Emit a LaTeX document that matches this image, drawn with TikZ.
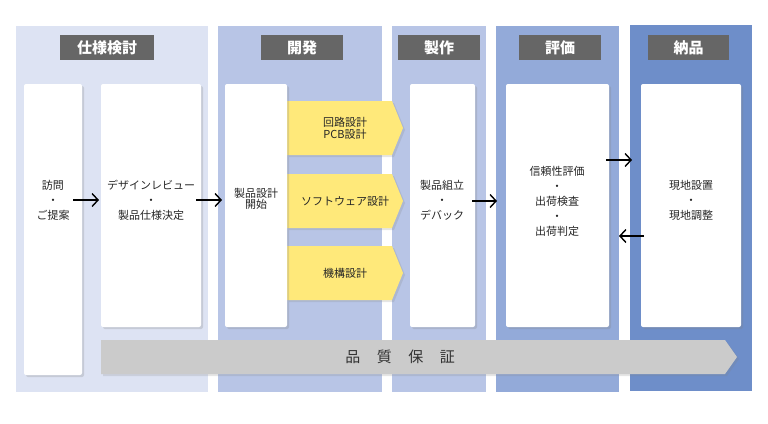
\documentclass[tikz,border=0pt]{standalone}
\usepackage{fontspec}
\setmainfont{Noto Sans CJK JP}
\usetikzlibrary{arrows.meta,shadows}
\definecolor{c1}{HTML}{DDE3F3}
\definecolor{c2}{HTML}{B8C5E6}
\definecolor{c4}{HTML}{93AAD9}
\definecolor{c5}{HTML}{6E8EC9}
\definecolor{hd}{HTML}{666666}
\definecolor{yl}{HTML}{FFE97A}
\definecolor{qa}{HTML}{CBCBCB}
\begin{document}
\begin{tikzpicture}[x=1pt,y=-1pt,
 hdr/.style={fill=hd,text=white,font=\bfseries\fontsize{15}{15}\selectfont,anchor=north west,inner sep=0},
 wbox/.style={fill=white,rounded corners=2pt,drop shadow={shadow xshift=2pt,shadow yshift=-2pt,opacity=0.25}},
 lbl/.style={font=\fontsize{11}{15}\selectfont,align=center,text=black!85},
 arr/.style={-{Straight Barb[length=6pt,width=13pt]},line width=1.4pt}]
\useasboundingbox (0,0) rectangle (768,423);
\fill[white] (0,0) rectangle (768,423);
\fill[c1] (16,26) rectangle (208,392);
\fill[c2] (218,26) rectangle (382,392);
\fill[c2] (392,26) rectangle (486,392);
\fill[c4] (496,26) rectangle (619,392);
\fill[c5] (630,25) rectangle (752,391);
\node[hdr,minimum width=94pt,minimum height=25pt] (h1) at (60,35) {仕様検討};
\node[hdr,minimum width=82pt,minimum height=25pt] (h2) at (261,35) {開発};
\node[hdr,minimum width=82pt,minimum height=25pt] (h3) at (398,35) {製作};
\node[hdr,minimum width=82pt,minimum height=25pt] (h4) at (519,35) {評価};
\node[hdr,minimum width=81pt,minimum height=25pt] (h5) at (648,35) {納品};
% yellow arrows
\foreach \t/\b/\n in {101/155/y1,174/228/y2,246/300/y3}{
 \fill[yl,drop shadow={shadow xshift=2pt,shadow yshift=-2pt,opacity=0.2}] (287,\t) -- (392,\t) -- (403,{(\t+\b)/2}) -- (392,\b) -- (287,\b) -- cycle;
 \coordinate (\n) at (345,{(\t+\b)/2});
}
\node[lbl] at (y1) {回路設計\\[-3pt]PCB設計};
\node[lbl] at (y2) {ソフトウェア設計};
\node[lbl] at (y3) {機構設計};
% QA bar
\fill[qa,drop shadow={shadow xshift=2pt,shadow yshift=-2pt,opacity=0.2}] (101,340) -- (725,340) -- (737,357) -- (725,374) -- (101,374) -- cycle;
\node[font=\fontsize{15}{15}\selectfont,text=black!80] (qa) at (400,357) {品\hspace{1.1em}質\hspace{1.1em}保\hspace{1.1em}証};
% boxes
\fill[wbox] (24,84) rectangle (82,375);
\fill[wbox] (101,84) rectangle (201,327);
\fill[wbox] (225,84) rectangle (287,327);
\fill[wbox] (410,84) rectangle (475,327);
\fill[wbox] (506,84) rectangle (609,327);
\fill[wbox] (641,84) rectangle (741,327);
\node[lbl] (b1) at (53,200) {訪問\\・\\ご提案};
\node[lbl] (b2) at (151,200) {デザインレビュー\\・\\製品仕様決定};
\node[lbl,align=center] (b3) at (256,199) {製品設計\\[-4pt]開始};
\node[lbl] (b4) at (442,200) {製品組立\\・\\デバック};
\node[lbl] (b5) at (557,201) {信頼性評価\\・\\出荷検査\\・\\出荷判定};
\node[lbl] (b6) at (691,200) {現地設置\\・\\現地調整};
\coordinate (b1e) at (73,200); \coordinate (b2w) at (99,200);
\coordinate (b2e) at (196,200); \coordinate (b3w) at (222,200);
\coordinate (b4e) at (472,201); \coordinate (b5w) at (497,201);
\coordinate (b5e) at (606,160); \coordinate (b6w) at (632,160);
\coordinate (b6x) at (644,236); \coordinate (b5x) at (619,236);
\draw[arr] (b1e) -- (b2w);
\draw[arr] (b2e) -- (b3w);
\draw[arr] (b4e) -- (b5w);
\draw[arr] (b5e) -- (b6w);
\draw[arr] (b6x) -- (b5x);
\end{tikzpicture}
\end{document}
